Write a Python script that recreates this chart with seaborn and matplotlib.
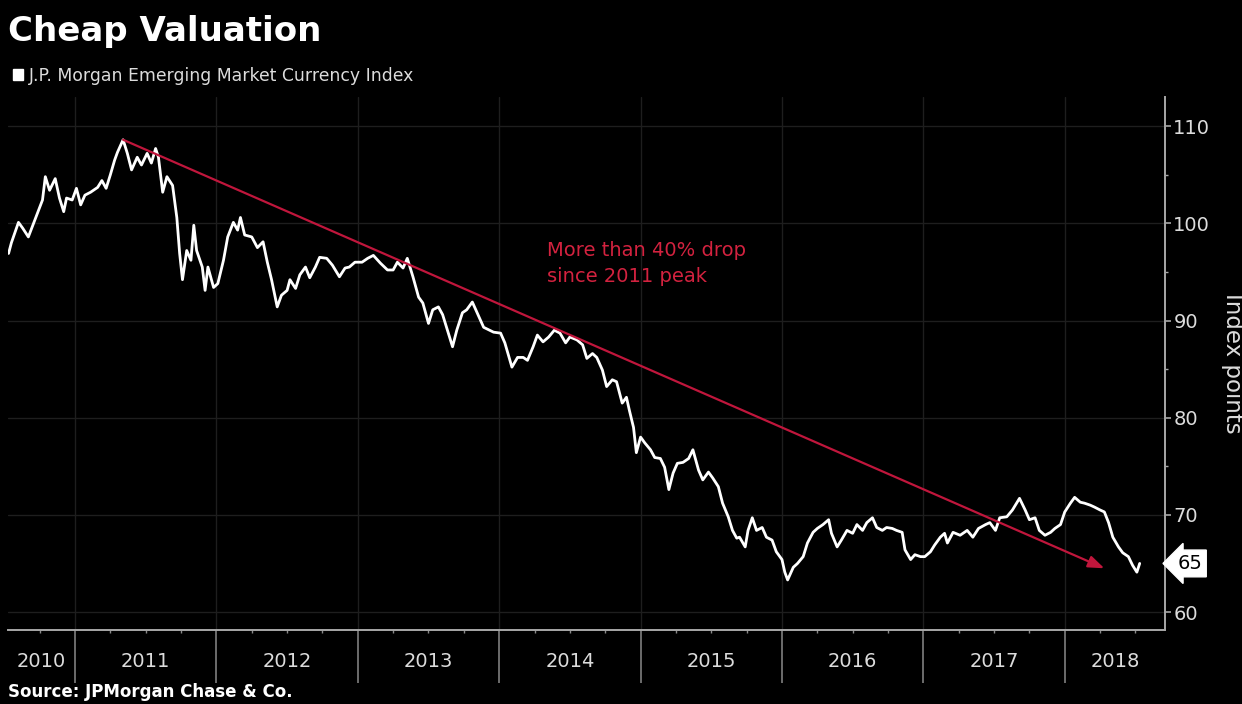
import matplotlib
matplotlib.use("Agg")
import numpy as np
import pandas as pd
import matplotlib.pyplot as plt
import matplotlib.transforms as mtransforms
from matplotlib.patches import Patch
from matplotlib.ticker import FixedLocator, MultipleLocator
import seaborn as sns

# ---- text ----
title = "Cheap Valuation"
series_name = "J.P. Morgan Emerging Market Currency Index"
source_text = "Source: JPMorgan Chase & Co."
y_label = "Index points"
note_text = "More than 40% drop\nsince 2011 peak"

# ---- axis labels ----
years = [2010, 2011, 2012, 2013, 2014, 2015, 2016, 2017, 2018]
y_ticks = [60, 70, 80, 90, 100, 110]

# ---- index level (date as decimal year, index points) ----
dates = [
    2010.53, 2010.55, 2010.60, 2010.63, 2010.67, 2010.72, 2010.77, 2010.79, 2010.82, 2010.86,
    2010.89, 2010.92, 2010.94, 2010.98,
    2011.01, 2011.04, 2011.07, 2011.11, 2011.16, 2011.19, 2011.22, 2011.25, 2011.28, 2011.30,
    2011.34, 2011.37, 2011.40, 2011.44, 2011.47, 2011.51, 2011.54, 2011.57, 2011.59, 2011.62,
    2011.65, 2011.69, 2011.72, 2011.74, 2011.76, 2011.79, 2011.82, 2011.84, 2011.86, 2011.90,
    2011.92, 2011.94, 2011.98,
    2012.01, 2012.05, 2012.08, 2012.12, 2012.15, 2012.17, 2012.20, 2012.25, 2012.29, 2012.33,
    2012.36, 2012.39, 2012.43, 2012.46, 2012.50, 2012.52, 2012.56, 2012.59, 2012.63, 2012.66,
    2012.70, 2012.73, 2012.78, 2012.82, 2012.87, 2012.91, 2012.94, 2012.98,
    2013.03, 2013.07, 2013.11, 2013.16, 2013.21, 2013.25, 2013.28, 2013.32, 2013.35, 2013.39,
    2013.43, 2013.46, 2013.50, 2013.53, 2013.57, 2013.60, 2013.64, 2013.67, 2013.70, 2013.74,
    2013.77, 2013.81, 2013.85, 2013.89, 2013.96,
    2014.01, 2014.04, 2014.09, 2014.13, 2014.17, 2014.20, 2014.24, 2014.27, 2014.31, 2014.35,
    2014.39, 2014.43, 2014.47, 2014.50, 2014.55, 2014.59, 2014.62, 2014.66, 2014.69, 2014.73,
    2014.76, 2014.80, 2014.83, 2014.87, 2014.90, 2014.92, 2014.95, 2014.97,
    2015.00, 2015.03, 2015.07, 2015.10, 2015.14, 2015.17, 2015.20, 2015.23, 2015.26, 2015.30,
    2015.34, 2015.37, 2015.41, 2015.44, 2015.48, 2015.51, 2015.55, 2015.58, 2015.62, 2015.65,
    2015.68, 2015.70, 2015.74, 2015.76, 2015.79, 2015.82, 2015.86, 2015.89, 2015.93, 2015.96,
    2016.00, 2016.02, 2016.04, 2016.08, 2016.11, 2016.15, 2016.18, 2016.22, 2016.25, 2016.29,
    2016.33, 2016.35, 2016.39, 2016.42, 2016.46, 2016.50, 2016.53, 2016.57, 2016.60, 2016.64,
    2016.67, 2016.71, 2016.74, 2016.78, 2016.81, 2016.85, 2016.87, 2016.91, 2016.94, 2016.98,
    2017.01, 2017.05, 2017.08, 2017.12, 2017.15, 2017.17, 2017.21, 2017.26, 2017.31, 2017.35,
    2017.39, 2017.44, 2017.47, 2017.51, 2017.54, 2017.59, 2017.63, 2017.68, 2017.72, 2017.75,
    2017.79, 2017.82, 2017.86, 2017.90, 2017.93, 2017.97,
    2018.00, 2018.04, 2018.07, 2018.11, 2018.14, 2018.18, 2018.21, 2018.25, 2018.28, 2018.31,
    2018.34, 2018.38, 2018.41, 2018.45, 2018.48, 2018.51, 2018.53,
]
values = [
    96.9, 98.0, 100.1, 99.5, 98.6, 100.5, 102.4, 104.8, 103.4, 104.6,
    102.6, 101.2, 102.6, 102.4,
    103.6, 101.9, 102.9, 103.2, 103.7, 104.4, 103.6, 105.0, 106.5, 107.3,
    108.6, 107.2, 105.5, 106.8, 106.0, 107.2, 106.2, 107.7, 106.8, 103.2,
    104.8, 103.9, 100.6, 96.9, 94.2, 97.2, 96.2, 99.8, 97.2, 95.5,
    93.1, 95.5, 93.4,
    93.8, 96.2, 98.6, 100.1, 99.3, 100.6, 98.8, 98.6, 97.5, 98.1,
    96.0, 94.2, 91.4, 92.6, 93.1, 94.2, 93.3, 94.7, 95.5, 94.4,
    95.5, 96.5, 96.4, 95.7, 94.5, 95.4, 95.5, 96.0,
    96.0, 96.4, 96.7, 95.9, 95.2, 95.2, 96.0, 95.4, 96.4, 94.5,
    92.4, 91.8, 89.7, 91.1, 91.4, 90.6, 88.7, 87.3, 89.0, 90.8,
    91.1, 91.9, 90.6, 89.3, 88.8,
    88.7, 87.7, 85.2, 86.2, 86.2, 85.9, 87.3, 88.5, 87.8, 88.3,
    89.0, 88.7, 87.7, 88.3, 88.0, 87.5, 86.1, 86.6, 86.2, 84.9,
    83.2, 83.9, 83.7, 81.5, 82.1, 80.8, 79.0, 76.4,
    78.0, 77.4, 76.7, 75.9, 75.8, 74.9, 72.6, 74.3, 75.3, 75.4,
    75.8, 76.7, 74.6, 73.6, 74.4, 73.8, 72.9, 71.2, 69.8, 68.4,
    67.6, 67.7, 66.7, 68.4, 69.7, 68.4, 68.7, 67.7, 67.4, 66.2,
    65.4, 64.1, 63.3, 64.6, 65.0, 65.7, 67.1, 68.2, 68.6, 69.0,
    69.5, 68.1, 66.7, 67.4, 68.4, 68.1, 69.0, 68.4, 69.2, 69.7,
    68.7, 68.4, 68.7, 68.6, 68.4, 68.2, 66.4, 65.4, 65.9, 65.7,
    65.7, 66.2, 66.9, 67.7, 68.1, 67.1, 68.2, 67.9, 68.4, 67.7,
    68.6, 69.0, 69.2, 68.4, 69.7, 69.8, 70.5, 71.7, 70.5, 69.5,
    69.7, 68.4, 67.9, 68.2, 68.6, 69.0,
    70.3, 71.2, 71.8, 71.3, 71.2, 71.0, 70.8, 70.5, 70.3, 69.2,
    67.7, 66.7, 66.1, 65.7, 64.8, 64.1, 65.0,
]

# end point of the trend arrow and position of its note
arrow_end = (2018.28, 64.5)
note_pos = (2014.34, 95.9)

# ---- colours ----
BG = "black"
LINE = "white"
AXIS = "#a8a8a8"
GRID = "#1e1e1e"
LABEL = "#dcdcdc"
RED_ARROW = "#c0163c"
RED_TEXT = "#d3223f"

sns.set_theme(style="dark", rc={
    "figure.facecolor": BG,
    "axes.facecolor": BG,
    "axes.edgecolor": AXIS,
    "text.color": LABEL,
    "xtick.color": AXIS,
    "ytick.color": AXIS,
})
plt.rcParams["font.family"] = ["DejaVu Sans"]

df = pd.DataFrame({"date": dates, "value": values})

W, H = 1242, 704
fig = plt.figure(figsize=(W / 100, H / 100), dpi=100)
ax = fig.add_axes([8 / W, 1 - 630 / H, (1165 - 8) / W, (630 - 97) / H])

sns.lineplot(data=df, x="date", y="value", color=LINE, linewidth=2.0,
             ax=ax, legend=False, zorder=3)

x_min, x_max = 2010.526, 2018.709
ax.set_xlim(x_min, x_max)
ax.set_ylim(58.15, 113.0)

# spines: only right and bottom
for side in ("left", "top"):
    ax.spines[side].set_visible(False)
for side in ("right", "bottom"):
    ax.spines[side].set_color(AXIS)
    ax.spines[side].set_linewidth(1.4)

# y axis on the right
ax.yaxis.tick_right()
ax.yaxis.set_label_position("right")
ax.set_yticks(y_ticks)
ax.set_yticklabels([str(v) for v in y_ticks])
ax.yaxis.set_minor_locator(MultipleLocator(5))
ax.tick_params(axis="y", which="major", length=4, width=1.2, pad=2,
               labelsize=14, labelcolor=LABEL, left=False, right=True)
ax.tick_params(axis="y", which="minor", length=2, width=1, left=False, right=True)
ax.set_ylabel(y_label, rotation=270, fontsize=16.5, color=LABEL, va="center")
ax.yaxis.set_label_coords(1.058, 0.5)

# x axis: long year separators, quarterly minor ticks
boundaries = [y for y in years if x_min < y < x_max]
ax.xaxis.set_major_locator(FixedLocator(boundaries))
ax.set_xticklabels([""] * len(boundaries))
quarters = [y + q for y in years for q in (0.25, 0.5, 0.75) if x_min < y + q < x_max]
ax.xaxis.set_minor_locator(FixedLocator(quarters))
ax.tick_params(axis="x", which="major", length=38, width=1.1, color="#8a8a8a",
               bottom=True, top=False)
ax.tick_params(axis="x", which="minor", length=2.5, width=1, color="#8a8a8a",
               bottom=True, top=False)
ax.set_xlabel("")

# year names centred in each visible year span
trans = mtransforms.blended_transform_factory(ax.transData, ax.transAxes)
for y in years:
    lo, hi = max(y, x_min), min(y + 1, x_max)
    ax.text((lo + hi) / 2, -0.06, str(y), transform=trans, ha="center",
            va="center", fontsize=14, color=LABEL)

# faint grid
ax.grid(axis="y", which="major", color=GRID, linewidth=1)
ax.grid(axis="x", which="major", color=GRID, linewidth=1)
ax.grid(which="minor", visible=False)
ax.set_axisbelow(True)

# trend arrow from the 2011 peak
i_peak = int(np.argmax(values))
ax.annotate("", xy=arrow_end, xytext=(dates[i_peak], values[i_peak]),
            arrowprops=dict(arrowstyle="-|>,head_length=0.8,head_width=0.3",
                            color=RED_ARROW, lw=1.6, shrinkA=0, shrinkB=0),
            zorder=4)
ax.text(note_pos[0], note_pos[1], note_text, color=RED_TEXT, fontsize=14,
        ha="left", va="center", linespacing=1.45)

# last value tag on the right axis
last = values[-1]
ax.annotate(f"{last:.0f}", xy=(1, last), xycoords=ax.get_yaxis_transform(),
            xytext=(9, 0), textcoords="offset points", ha="left", va="center",
            fontsize=14, color="black", annotation_clip=False,
            bbox=dict(boxstyle="larrow,pad=0.2", fc="white", ec="white"))

# title, legend, source
fig.text(8 / W, 1 - 32 / H, title, fontsize=24.5, fontweight="bold",
         color="white", ha="left", va="center")
fig.legend(handles=[Patch(facecolor="white", edgecolor="white", label=series_name)],
           loc="center left", bbox_to_anchor=(13 / W, 1 - 76 / H), frameon=False,
           handlelength=0.6, handleheight=0.6, handletextpad=0.3,
           borderaxespad=0, borderpad=0, fontsize=12.4, labelcolor=LABEL)
fig.text(8 / W, 1 - 692 / H, source_text, fontsize=12, fontweight="bold",
         color="white", ha="left", va="center")

fig.savefig("out.png", dpi=100, facecolor=BG)
